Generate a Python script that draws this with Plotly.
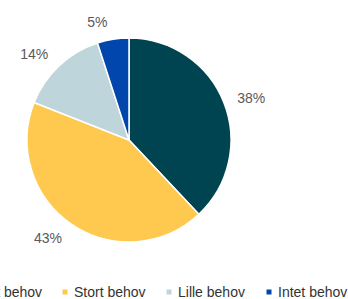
import plotly.graph_objects as go

labels = ["Meget stort behov", "Stort behov", "Lille behov", "Intet behov"]
values = [38, 43, 14, 5]
colors = ["#014451", "#FFC94F", "#BDD5DB", "#0046AD"]

W, H = 348, 299
CX, CY, R = 129, 140, 102      # pie centre / radius in pixels
RL = 112                       # radius of invisible ring carrying the outside labels


def dom(r):
    return dict(x=[(CX - r) / W, (CX + r) / W], y=[(H - CY - r) / H, (H - CY + r) / H])


fig = go.Figure()
fig.add_trace(go.Pie(
    labels=labels, values=values, sort=False, direction="clockwise", rotation=0,
    marker=dict(colors=colors, line=dict(color="white", width=1.5)),
    textinfo="none", domain=dom(R), showlegend=False, hoverinfo="label+percent",
))
# transparent ring, only used to place the percentage labels a little further out
fig.add_trace(go.Pie(
    labels=labels, values=values, sort=False, direction="clockwise", rotation=0,
    marker=dict(colors=["rgba(0,0,0,0)"] * len(values), line=dict(width=0)),
    texttemplate="%{percent:.0%}", textposition="outside",
    textfont=dict(family="Liberation Sans, Arial", size=14, color="#595959"),
    domain=dom(RL), showlegend=False, hoverinfo="skip",
))

# custom legend (small square markers close to text)
leg_text_x = [43, 73, 177, 277]
leg_anchor = ["right", "left", "left", "left"]
leg_y = 292
for lab, col, tx, anc in zip(labels, colors, leg_text_x, leg_anchor):
    fig.add_annotation(x=tx / W, y=(H - leg_y) / H, xref="paper", yref="paper",
                       text=lab, showarrow=False, xanchor=anc, yanchor="middle",
                       borderpad=0,
                       font=dict(family="Liberation Sans, Arial", size=14, color="#333333"))
    if anc == "left":
        cx = tx - 8
        fig.add_shape(type="rect", xref="paper", yref="paper",
                      x0=(cx - 2.5) / W, x1=(cx + 2.5) / W,
                      y0=(H - leg_y - 2.5) / H, y1=(H - leg_y + 2.5) / H,
                      fillcolor=col, line=dict(width=0))

fig.update_layout(width=W, height=H, margin=dict(l=0, r=0, t=0, b=0),
                  paper_bgcolor="white", plot_bgcolor="white")
fig.write_html("out.html", config={"displayModeBar": False},
               post_script="document.body.style.margin='0';")
